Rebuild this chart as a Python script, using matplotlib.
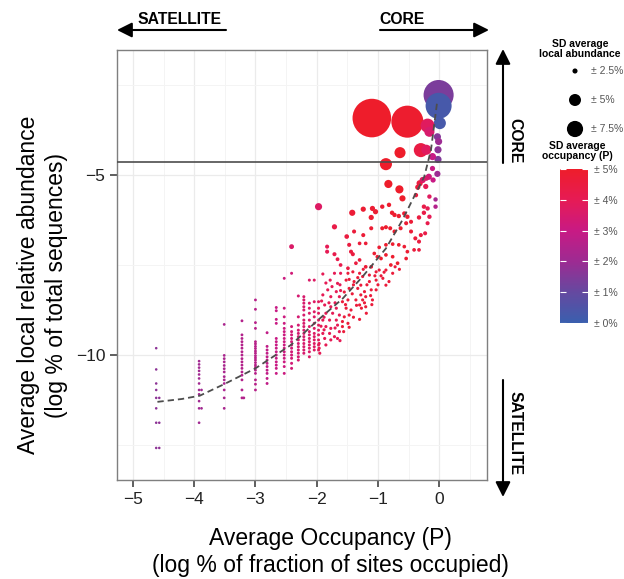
import numpy as np
import matplotlib
matplotlib.use('Agg')
import matplotlib.pyplot as plt
from matplotlib.colors import LinearSegmentedColormap, Normalize
from matplotlib.cm import ScalarMappable

plt.rcParams['font.family'] = ['Liberation Sans', 'DejaVu Sans']

W, H, DPI = 624, 579, 100

# ---- data ----
# satellite tail: discrete occupancy columns, abundances per column
col_x = [-4.62, -4.57, -3.92, -3.88, -3.51, -3.22, -3.19, -3.00, -2.81,
         -2.66, -2.53, -2.41, -2.30, -2.21, -2.12, -2.04, -1.97]
col_y = [
    [-9.81, -10.40, -10.79, -10.97, -11.19, -11.48, -11.88, -12.58],
    [-11.19, -11.88, -12.58],
    [-10.17, -10.26, -10.35, -10.44, -10.54, -10.65, -10.79, -10.97, -11.09, -11.28, -11.48, -11.88],
    [-10.97, -11.48],
    [-9.15, -10.01, -10.10, -10.19, -10.29, -10.38, -10.47, -10.60, -10.69, -10.79, -10.97, -11.19, -11.48],
    [-9.05, -9.44, -9.54, -9.63, -9.72, -9.81, -9.91, -10.00, -10.10, -10.19, -10.28, -10.37, -10.47,
     -10.56, -10.69, -10.97, -11.19],
    [-11.19],
    [-8.47, -8.73, -9.10, -9.26, -9.63, -9.69, -9.76, -9.82, -9.89, -9.95, -10.02, -10.08, -10.14,
     -10.21, -10.28, -10.34, -10.42, -10.51, -10.69, -10.81, -10.97],
    [-9.38, -9.76, -9.86, -9.95, -10.05, -10.14, -10.23, -10.32, -10.42, -10.51, -10.65, -10.79],
    [-8.68, -8.77, -9.01, -9.12, -9.54, -9.63, -9.72, -9.81, -9.91, -10.00, -10.09, -10.19, -10.28,
     -10.37, -10.51],
    [-7.87, -8.70, -8.94, -9.12, -9.26, -9.35, -9.44, -9.54, -9.63, -9.72, -9.81, -9.91, -10.00,
     -10.09, -10.19, -10.32, -10.51],
    [-7.73, -9.21, -9.35, -9.44, -9.54, -9.63, -9.72, -9.81, -9.91, -10.00, -10.09, -10.23, -10.37],
    [-8.36, -8.94, -9.17, -9.31, -9.40, -9.49, -9.58, -9.68, -9.77, -9.86, -9.95, -10.05, -10.14],
    [-8.38, -8.47, -8.56, -8.66, -8.75, -8.89, -9.03, -9.12, -9.21, -9.31, -9.40, -9.49, -9.58,
     -9.68, -9.77, -9.86, -9.95],
    [-7.92, -8.56, -8.70, -8.84, -9.03, -9.21, -9.35, -9.44, -9.54, -9.63, -9.72, -9.81, -9.91, -10.05],
    [-7.92, -8.52, -8.80, -8.94, -9.12, -9.26, -9.40, -9.49, -9.58, -9.68, -9.77, -9.86],
    [-8.52, -8.84, -9.03, -9.17, -9.31, -9.44, -9.58, -9.72, -9.86],
]
col_sd_occ = [1.7, 1.7, 2.1, 2.1, 2.3, 2.5, 2.5, 2.6, 2.8, 3.0, 3.1, 3.3, 3.4, 3.5, 3.6, 3.7, 3.8]
col_sd_ab = [2.09, 2.09, 2.10, 2.10, 2.11, 2.12, 2.12, 2.12, 2.13, 2.13, 2.13, 2.14, 2.14, 2.14, 2.14, 2.14, 2.14]

# dense cloud, west part (pinker) and east part (red)
cloud_w_x = [-1.90, -1.78, -1.66, -1.82, -1.68, -1.90, -1.77, -1.63, -1.97, -1.87, -1.77, -1.68,
             -1.85, -1.74, -1.63, -1.90, -1.79, -1.68, -1.85, -1.77, -1.66, -1.90, -1.79, -1.71,
             -1.63, -1.87, -1.77, -1.66, -1.96, -1.85, -1.96, -1.71, -1.61, -1.61,
             -1.93, -1.88, -1.80, -1.70, -1.62, -1.75, -1.85, -1.92, -1.70, -1.62, -1.95, -1.88]
cloud_w_y = [-7.75, -7.92, -8.01, -8.19, -8.24, -8.33, -8.38, -8.38, -8.70, -8.61, -8.66, -8.70,
             -8.84, -8.84, -8.89, -9.03, -9.03, -9.03, -9.21, -9.26, -9.17, -9.40, -9.40, -9.49,
             -9.35, -9.54, -9.58, -9.54, -9.68, -9.72, -9.81, -7.73, -7.73, -8.21,
             -9.20, -8.95, -8.55, -8.55, -8.05, -8.10, -8.00, -8.50, -9.25, -9.60, -9.95, -9.30]
cloud_e_x = [-1.49, -1.41, -1.30, -1.25, -1.14, -1.03, -1.52, -1.39, -1.28, -1.14, -1.03, -1.47,
             -1.33, -1.22, -1.11, -1.28, -1.20, -1.58, -1.49, -1.36, -1.25, -1.09, -1.52, -1.44,
             -1.30, -1.20, -1.55, -1.47, -1.30, -1.58, -1.49, -1.58, -1.47, -0.98, -0.87, -0.65,
             -0.92, -0.82, -1.19, -0.87, -1.03, -0.76,
             -1.55, -1.42, -1.35, -1.27, -1.12, -1.00, -0.95, -1.18, -1.40, -1.47, -1.33, -1.24,
             -1.05, -1.53, -1.40, -1.56, -1.22, -1.10, -0.90, -0.72]
cloud_e_y = [-7.73, -7.69, -7.73, -7.82, -7.78, -7.69, -7.92, -7.96, -8.06, -7.96, -7.92, -8.15,
             -8.15, -8.24, -8.19, -8.33, -8.38, -8.52, -8.47, -8.47, -8.47, -8.47, -8.70, -8.75,
             -8.61, -8.66, -8.94, -8.89, -9.01, -9.07, -9.12, -9.21, -9.23, -7.64, -7.64, -7.62,
             -7.87, -7.96, -8.84, -8.06, -8.19, -7.73,
             -8.25, -8.30, -8.62, -8.70, -8.35, -8.05, -7.80, -8.05, -8.05, -7.90, -7.85, -7.62,
             -7.80, -8.60, -8.95, -9.35, -8.55, -8.60, -7.70, -7.55]
cloud_w_sd_occ, cloud_e_sd_occ = 4.0, 4.6
cloud_sd_ab = 2.16

# scattered upper points, one by one
up_x = [-1.71, -1.51, -1.39, -1.24, -1.11, -1.47, -1.30, -1.20, -1.83, -1.83, -1.71, -1.66,
        -1.44, -1.41, -1.06, -1.01, -1.30, -1.61, -1.49, -1.36, -1.20, -1.11, -2.41,
        -0.83, -0.65, -0.60, -1.42, -1.24, -1.09, -1.04, -0.93, -0.82, -0.77, -1.11, -0.73,
        -0.66, -0.57, -0.52, -0.33, -0.25, -0.19, -0.16, -0.06, -0.32, -0.35, -0.27, -0.17,
        -0.10, -0.03, -0.06, -0.46, -0.19, -0.93, -0.87, -0.80, -0.73, -0.63, -0.54, -0.46,
        -0.39, -0.30, -0.23, -0.33, -0.98, -0.87, -0.76, -0.66, -0.57, -0.52, -0.41, -0.33,
        -0.54, -0.95, -0.87, -0.76, -0.68, -0.79, -0.22, -0.38, -0.25, -0.16]
up_y = [-6.44, -6.71, -6.57, -6.67, -6.48, -6.94, -6.90, -6.90, -6.99, -7.13, -7.20, -7.34,
        -7.13, -7.20, -7.18, -7.27, -7.36, -7.50, -7.59, -7.45, -7.55, -7.55, -6.99,
        -5.25, -5.40, -5.65, -6.05, -5.95, -5.93, -6.02, -5.88, -5.83, -6.05, -6.18, -6.11,
        -6.14, -6.07, -6.16, -6.18, -6.05, -5.93, -6.16, -5.88, -5.23, -5.34, -5.14, -5.05,
        -5.14, -4.97, -5.68, -6.30, -6.34, -6.48, -6.45, -6.48, -6.57, -6.48, -6.34, -6.57,
        -6.76, -6.67, -6.62, -6.85, -7.01, -6.94, -6.92, -6.94, -6.99, -7.13, -7.08, -7.08,
        -7.32, -7.32, -7.22, -7.27, -7.45, -7.50, -5.32, -5.56, -5.88, -5.60]
up_sd_occ = [4.3, 4.5, 4.6, 4.7, 4.8, 4.5, 4.6, 4.7, 4.0, 4.0, 4.2, 4.2,
             4.5, 4.5, 4.8, 4.8, 4.6, 4.2, 4.4, 4.5, 4.7, 4.7, 3.6,
             5.0, 5.0, 5.0, 4.7, 4.8, 4.8, 4.8, 4.8, 4.9, 4.9, 4.8, 4.9,
             4.9, 4.8, 4.8, 4.5, 4.3, 4.0, 4.0, 2.5, 4.5, 4.6, 3.6, 3.2,
             3.0, 2.0, 2.2, 4.7, 4.2, 4.9, 4.9, 4.9, 4.9, 4.9, 4.8, 4.7,
             4.6, 4.5, 4.3, 4.5, 4.8, 4.9, 4.9, 4.9, 4.8, 4.8, 4.6, 4.5,
             4.8, 4.9, 4.9, 4.9, 4.9, 4.9, 4.0, 4.5, 4.3, 3.8]
up_sd_ab = [2.53, 2.41, 2.30, 2.30, 2.30, 2.30, 2.24, 2.24, 2.30, 2.30, 2.30, 2.26,
            2.30, 2.30, 2.24, 2.24, 2.24, 2.24, 2.24, 2.24, 2.24, 2.24, 2.45,
            3.36, 3.36, 2.76, 2.76, 2.53, 2.53, 2.53, 2.36, 2.36, 2.36, 2.53, 2.36,
            2.36, 2.36, 2.36, 2.36, 2.36, 2.36, 2.36, 2.36, 2.76, 2.53, 2.76, 2.76,
            2.53, 2.76, 2.36, 2.30, 2.30, 2.30, 2.30, 2.30, 2.30, 2.30, 2.30, 2.30,
            2.30, 2.30, 2.30, 2.30, 2.24, 2.24, 2.24, 2.24, 2.24, 2.24, 2.24, 2.24,
            2.24, 2.24, 2.24, 2.24, 2.24, 2.24, 2.53, 2.36, 2.36, 2.36]

# core group (largest first so the smaller ones stay on top)
top_x = [-1.10, -0.52, -0.01, -0.01, 0.01, -0.19, -0.16, -0.03, -0.01, -0.02, -0.02,
         -0.30, -0.21, -0.11, -0.64, -0.87, -0.11, -0.21, -1.97]
top_y = [-3.42, -3.52, -2.78, -3.08, -3.56, -3.63, -3.80, -3.94, -4.07, -4.30, -4.57,
         -4.31, -4.30, -4.49, -4.38, -4.70, -4.82, -5.09, -5.88]
top_sd_occ = [5.0, 4.9, 1.4, 0.3, 0.3, 3.8, 3.5, 1.6, 2.0, 1.7, 1.5,
              4.4, 3.8, 3.0, 5.0, 5.0, 3.0, 3.5, 3.7]
top_sd_ab = [33.5, 23.7, 21.1, 16.3, 5.05, 6.15, 4.12, 3.04, 3.04, 3.04, 3.04,
             6.15, 4.12, 3.04, 4.56, 5.05, 2.53, 2.53, 3.04]

# dashed trend line
fit_x = [-4.60, -4.20, -3.91, -3.50, -3.00, -2.42, -1.98, -1.575, -1.25, -0.87,
         -0.60, -0.41, -0.245, -0.135, -0.03]
fit_y = [-11.30, -11.22, -11.13, -10.80, -10.37, -9.72, -9.03, -8.43, -7.82, -7.04,
         -6.25, -5.60, -5.05, -4.31, -2.92]

core_cut = -4.64

size_breaks = [2.5, 5.0, 7.5]
size_labels = ['± 2.5%', '± 5%', '± 7.5%']
occ_ticks = [0, 1, 2, 3, 4, 5]
occ_labels = ['± 0%', '± 1%', '± 2%', '± 3%', '± 4%', '± 5%']


def marker_area(sd):
    # ggplot-like area scale: radius^2 grows linearly with SD
    r_px = np.sqrt(11.8 * (np.asarray(sd, dtype=float) - 1.95))
    return (2 * r_px * 72.0 / DPI) ** 2


cmap = LinearSegmentedColormap.from_list(
    'occ', [(0.0, '#3a5fae'), (0.2, '#6549a0'), (0.4, '#9d2b92'),
            (0.6, '#c81a84'), (0.8, '#e61b55'), (1.0, '#ee1d2b')])
norm = Normalize(0, 5)

# flatten the columns
cx, cy, cocc, cab = [], [], [], []
for x, ys, o, a in zip(col_x, col_y, col_sd_occ, col_sd_ab):
    cx += [x] * len(ys)
    cy += ys
    cocc += [o] * len(ys)
    cab += [a] * len(ys)

fig = plt.figure(figsize=(W / DPI, H / DPI), dpi=DPI)
ax = fig.add_axes([117 / W, 1 - 480 / H, 370 / W, 430 / H])

ax.scatter(cx, cy, s=marker_area(cab), c=cocc, cmap=cmap, norm=norm, linewidths=0, zorder=2)
ax.scatter(cloud_w_x, cloud_w_y, s=marker_area([cloud_sd_ab] * len(cloud_w_x)),
           c=[cloud_w_sd_occ] * len(cloud_w_x), cmap=cmap, norm=norm, linewidths=0, zorder=2)
ax.scatter(cloud_e_x, cloud_e_y, s=marker_area([cloud_sd_ab] * len(cloud_e_x)),
           c=[cloud_e_sd_occ] * len(cloud_e_x), cmap=cmap, norm=norm, linewidths=0, zorder=2)
ax.scatter(up_x, up_y, s=marker_area(up_sd_ab), c=up_sd_occ, cmap=cmap, norm=norm,
           linewidths=0, zorder=2)
ax.scatter(top_x, top_y, s=marker_area(top_sd_ab), c=top_sd_occ, cmap=cmap, norm=norm,
           linewidths=0, zorder=2)

ax.plot(fit_x, fit_y, color='#4d4d4d', lw=1.3, ls=(0, (3.5, 2.2)), zorder=3)
ax.axhline(core_cut, color='#4d4d4d', lw=1.2, zorder=3)

ax.set_xlim(-5.26, 0.78)
ax.set_ylim(-13.47, -1.53)
ax.set_xticks([-5, -4, -3, -2, -1, 0])
ax.set_xticks(np.arange(-4.5, 0.6, 1.0), minor=True)
ax.set_yticks([-10, -5])
ax.set_yticks([-12.5, -7.5, -2.5], minor=True)
ax.grid(which='major', color='#ebebeb', lw=0.9, zorder=0)
ax.grid(which='minor', color='#f4f4f4', lw=0.7, zorder=0)
ax.set_axisbelow(True)
ax.tick_params(which='major', length=5, width=1.1, color='#333333',
               labelsize=12.5, labelcolor='#222222')
ax.tick_params(axis='x', pad=4)
ax.tick_params(axis='y', pad=3.5)
ax.tick_params(which='minor', length=0)
for sp in ax.spines.values():
    sp.set_color('#7f7f7f')
    sp.set_linewidth(1.0)

ax.set_xlabel('Average Occupancy (P)\n(log % of fraction of sites occupied)',
              fontsize=16.5, linespacing=1.25, va='center', ha='center')
ax.xaxis.set_label_coords(0.576, -0.167)
ax.set_ylabel('Average local relative abundance\n(log % of total sequences)',
              fontsize=16.5, linespacing=1.25, va='center', ha='center')
ax.yaxis.set_label_coords(-0.201, 0.453)

# overlay in pixel coordinates for the arrows and the size legend
lax = fig.add_axes([0, 0, 1, 1])
lax.set_xlim(0, W)
lax.set_ylim(H, 0)
lax.axis('off')

arrow = dict(arrowstyle='-|>,head_length=0.9,head_width=0.45', color='black',
             lw=1.5, shrinkA=0, shrinkB=0, mutation_scale=10)
lax.annotate('', xy=(117, 30), xytext=(226, 30), arrowprops=arrow)
lax.annotate('', xy=(489, 30), xytext=(380, 30), arrowprops=arrow)
lax.annotate('', xy=(503, 49), xytext=(503, 163), arrowprops=arrow)
lax.annotate('', xy=(503, 497), xytext=(503, 380), arrowprops=arrow)
lax.text(180, 19, 'SATELLITE', ha='center', va='center', fontsize=11.3, fontweight='bold')
lax.text(402, 19, 'CORE', ha='center', va='center', fontsize=11.3, fontweight='bold')
lax.text(515, 141, 'CORE', ha='center', va='center', rotation=270, fontsize=11.3,
         fontweight='bold')
lax.text(515, 433, 'SATELLITE', ha='center', va='center', rotation=270, fontsize=11.3,
         fontweight='bold')

lax.text(580, 49, 'SD average\nlocal abundance', ha='center', va='center',
         fontsize=7.5, fontweight='bold', linespacing=1.1)
leg_y = [71, 100, 129]
lax.scatter([575] * 3, leg_y, s=marker_area(size_breaks), c='black', linewidths=0)
for yy, lab in zip(leg_y, size_labels):
    lax.text(591, yy, lab, va='center', ha='left', fontsize=7.5, color='#555555')

lax.text(577, 151, 'SD average\noccupancy (P)', ha='center', va='center',
         fontsize=7.5, fontweight='bold', linespacing=1.1)

cax = fig.add_axes([560 / W, 1 - 323 / H, 28 / W, 154 / H])
cb = fig.colorbar(ScalarMappable(norm=norm, cmap=cmap), cax=cax)
cb.outline.set_visible(False)
cb.set_ticks(occ_ticks)
cb.set_ticklabels(occ_labels)
cax.tick_params(length=4, width=0.8, color='white', direction='in', left=True, right=True,
                labelsize=7.5, labelcolor='#555555', pad=4)

fig.savefig('out.png', dpi=DPI)
